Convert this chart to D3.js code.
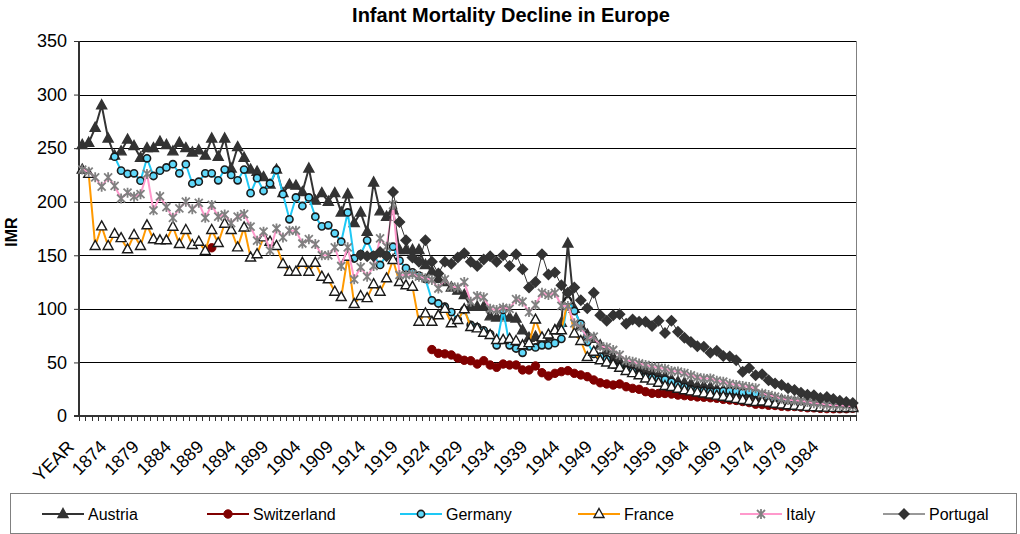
<!DOCTYPE html>
<html>
<head>
<meta charset="utf-8">
<script src="https://cdn.jsdelivr.net/npm/d3@7"></script>
<style>
  body { margin: 0; background: #fff; }
  svg { display: block; font-family: "Liberation Sans", Arial, sans-serif; }
</style>
</head>
<body>
<svg id="chart" width="1020" height="534"></svg>
<script>
'use strict';

var _ = null;

// category labels (first cell of the sheet was the header "YEAR")
var categories = ['YEAR',
  '1870','1871','1872','1873','1874','1875','1876','1877','1878','1879',
  '1880','1881','1882','1883','1884','1885','1886','1887','1888','1889',
  '1890','1891','1892','1893','1894','1895','1896','1897','1898','1899',
  '1900','1901','1902','1903','1904','1905','1906','1907','1908','1909',
  '1910','1911','1912','1913','1914','1915','1916','1917','1918','1919',
  '1920','1921','1922','1923','1924','1925','1926','1927','1928','1929',
  '1930','1931','1932','1933','1934','1935','1936','1937','1938','1939',
  '1940','1941','1942','1943','1944','1945','1946','1947','1948','1949',
  '1950','1951','1952','1953','1954','1955','1956','1957','1958','1959',
  '1960','1961','1962','1963','1964','1965','1966','1967','1968','1969',
  '1970','1971','1972','1973','1974','1975','1976','1977','1978','1979',
  '1980','1981','1982','1983','1984','1985','1986','1987','1988']
var labelEvery = 5
var yTicks = [0, 50, 100, 150, 200, 250, 300, 350]

var austria = [
  253,255,269,290,259,243,247,258,252,241,
  250,250,256,253,247,255,250,246,248,243,
  259,242,259,231,251,241,230,228,223,216,
  230,208,216,215,209,231,201,208,200,208,
  190,207,180,190,172,218,191,186,192,155,
  155,155,155,141,135,128,125,120,117,113,
  102,102,102,93,92,93,92,91,80,73,
  74,71,74,80,87,161,100,84,76,72,
  66,61,55,51,48,46,43,42,40,38,
  37,34,32,31,30,28,28,27,25,24,
  23,22,21,20,19,18,17,16,15,14,
  13,12.5,12,11.5,11,10.5,10,9.5,8.5,8.3]

var switzerland = [
  _,_,_,_,_,_,_,_,_,_,
  _,_,_,_,_,_,_,_,_,_,
  157,_,_,_,_,_,_,_,_,_,
  _,_,_,_,_,_,_,_,_,_,
  _,_,_,_,_,_,_,_,_,_,
  _,_,_,_,62,58.5,58,57,54,52,
  51.6,48.5,51.6,47.6,45.4,48.5,47.6,47.6,43,43,
  46.7,40.4,37.3,39.8,41.4,42.3,39.8,38.3,36.7,33.6,
  31,29.9,28.9,29.9,27.3,25.8,24.9,22.7,21.2,21,
  21,20.5,19.5,19,18.5,17.8,17.5,17,16.5,15.5,
  15,14.5,13.5,12.5,11,10.7,10,9.8,9.1,8.7,
  8.8,8.3,7.7,7.6,7.1,6.9,6.8,6.8,6.8,7.3]

var germany = [
  _,_,_,_,_,242,229,226,226.5,219.6,
  240.5,224,229,232,235,226.5,235,217,218.7,226.5,
  226.5,220,230,225,220,230,208,222,210,217,
  229.6,207,183.6,204,196,204,186,177,178,170.5,
  162.7,190,147,151,164,150,141,150,158,145,
  138,134,131,128,108,105,102,97,90,99,
  85,83,80,76.5,66,99,66,63,59,65,
  64,66,66,68,72,108,98,86,69,58,
  55.5,53,48,46,43,42,39,36.5,36,34,
  34,32,29,27,25,24,23.6,22.8,22.8,23.3,
  23.4,23,22,22.7,21,19.7,17.4,15.4,14.7,13.5,
  12.6,11.6,10.9,10.2,9.6,9.1,8.5,8.3,7.6,7.5]

var france = [
  230,226,158.7,177,158.7,170,166,155.6,169,158.7,
  178,165,164,164,176.7,160.5,173.6,159.6,162.7,154,
  173.6,161.5,179.5,173.6,157.4,176,148,151,166.7,162.7,
  158.7,141.9,134.7,134.7,143,134.7,143,130,127.6,116,
  111,148.7,104.5,112,110,123,116,128.5,145.6,125,
  122,120.7,88,95.8,88,94,100,86.5,89.6,99.6,
  83,81.8,77.7,75.6,71,71,72,70,66,68,
  90,73.4,76,80,80,108,77,70,55,60,
  52,50,48,45,42,40,38,35,33,31,
  28,27,25.5,24,23,22,21,20,19,18,
  17,16,15,14,13,13.5,12.5,11.4,10.7,10,
  9.5,9,8.5,8.3,8,7.8,7.6,7.5,7.5,7.4]

var italy = [
  230,228,222.8,214,222.8,214.7,203,208.4,204.7,207,
  225.9,192,205,195,185,193.8,200,193,199,185,
  197,186,188,180,186,188.5,176.7,163.6,172,154.3,
  175,166.7,173,173,161,165,160.5,150,150,157.4,
  140,157.4,127.6,139,130,140,165.8,158,197,131.6,
  131.6,132.5,130,128.5,127,119,127.6,120.7,120,125,
  106.7,112,110.8,100,99,101,100,109,106.7,97,
  103.6,115,113,115,102.7,102.7,86.5,83,72.5,74,
  65,64,61.6,57,52,50.7,49,47.6,46,45,
  44,42,41.5,40,38,36,35,35,33,32,
  30,29,28,27,26,21,19.5,18,16,15,
  14.6,14,13,12,11.5,10.5,10,9.8,9.5,9]

var portugal = [
  _,_,_,_,_,_,_,_,_,_,
  _,_,_,_,_,_,_,_,_,_,
  _,_,_,_,_,_,_,_,_,_,
  _,_,_,_,_,_,_,_,_,_,
  _,_,_,150,149,149,153,149,209,181,
  164,148,144,164,144,133,144,142,148,152,
  144,140,146,149,144,150,140,151,137,120,
  125,151,132,134,122,115,120,108,100.5,115,
  94,89,94,95,86,90,88,88,84,89,
  77.5,88.8,78.6,73,69,65,64.7,59,61,56,
  55.5,52,41.4,44.8,38,39,33.4,30.3,29,26,
  24.3,21.8,19.8,19.3,16.7,17.8,15.9,14.2,13.1,12.2]

var series = [
  {name: 'Austria', values: austria, color: '#333333', width: 2, marker: 'triangle', fill: '#333333', stroke: '#333333'},
  {name: 'Switzerland', values: switzerland, color: '#800000', width: 2, marker: 'circle', fill: '#800000', stroke: '#800000'},
  {name: 'Germany', values: germany, color: '#1ec8f5', width: 2, marker: 'ring', fill: '#5fd8fa', stroke: '#1a1a1a'},
  {name: 'France', values: france, color: '#ff9900', width: 2, marker: 'triangle', fill: '#ffffff', stroke: '#1a1a1a'},
  {name: 'Italy', values: italy, color: '#ff99cc', width: 2, marker: 'star', fill: 'none', stroke: '#808080'},
  {name: 'Portugal', values: portugal, color: '#333333', width: 1, marker: 'diamond', fill: '#333333', stroke: '#333333'}
]

var legendX = [42, 207, 400, 578, 740, 883]

var plot = {left: 79, right: 856, top: 41, bottom: 416}

var svg = d3.select('#chart')

var x = d3.scaleBand().domain(categories).range([plot.left, plot.right])
var y = d3.scaleLinear().domain([0, 350]).range([plot.bottom, plot.top])
var cx = function(i){ return x(categories[i]) + x.bandwidth() / 2 }

function markerPath(type) {
  if (type === 'triangle') return 'M0,-5.5L5,3.5L-5,3.5Z'
  if (type === 'diamond') return 'M0,-5L5,0L0,5L-5,0Z'
  if (type === 'star') return 'M-4,-4L4,4M-4,4L4,-4M0,-5L0,5'
  return null
}

function drawMarker(g, s, px, py) {
  if (s.marker === 'circle' || s.marker === 'ring') {
    g.append('circle')
      .attr('cx', px).attr('cy', py)
      .attr('r', s.marker === 'circle' ? 4.2 : 3.6)
      .attr('fill', s.fill)
      .attr('stroke', s.stroke)
      .attr('stroke-width', s.marker === 'circle' ? 1 : 1.6)
  } else {
    g.append('path')
      .attr('d', markerPath(s.marker))
      .attr('transform', 'translate(' + px + ',' + py + ')')
      .attr('fill', s.fill)
      .attr('stroke', s.stroke)
      .attr('stroke-width', s.marker === 'star' ? 1.8 : 1.4)
  }
}

// title
svg.append('text')
  .attr('x', 511).attr('y', 22)
  .attr('text-anchor', 'middle')
  .attr('font-size', 20).attr('font-weight', 'bold')
  .text('Infant Mortality Decline in Europe')

// y title
svg.append('text')
  .attr('transform', 'translate(17,232) rotate(-90)')
  .attr('text-anchor', 'middle')
  .attr('font-size', 16).attr('font-weight', 'bold')
  .text('IMR')

// gridlines
svg.append('g')
  .selectAll('line')
  .data(yTicks.slice(1))
  .enter().append('line')
    .attr('x1', plot.left).attr('x2', plot.right)
    .attr('y1', function(d){ return Math.round(y(d)) + 0.5 })
    .attr('y2', function(d){ return Math.round(y(d)) + 0.5 })
    .attr('stroke', '#000').attr('stroke-width', 1)

// right edge of plot area
svg.append('line')
  .attr('x1', plot.right + 0.5).attr('x2', plot.right + 0.5)
  .attr('y1', plot.top).attr('y2', plot.bottom)
  .attr('stroke', '#808080')

// y axis
var yAxis = svg.append('g')
  .attr('transform', 'translate(' + plot.left + ',0)')
  .call(d3.axisLeft(y).tickValues(yTicks).tickSize(5).tickPadding(7))
yAxis.select('.domain').remove()
yAxis.selectAll('line').attr('stroke', '#333')
yAxis.selectAll('text').attr('font-size', 18).attr('fill', '#000')
  .attr('font-family', '"Liberation Sans", Arial, sans-serif')
svg.append('line')
  .attr('x1', plot.left).attr('x2', plot.left)
  .attr('y1', plot.top).attr('y2', plot.bottom + 1)
  .attr('stroke', '#333').attr('stroke-width', 2)

// x axis: ticks on category boundaries
var xAxis = svg.append('g')
xAxis.selectAll('line.tick')
  .data(categories.concat(['end']))
  .enter().append('line')
    .attr('class', 'tick')
    .attr('x1', function(d, i){ return Math.round(plot.left + i * x.bandwidth()) + 0.5 })
    .attr('x2', function(d, i){ return Math.round(plot.left + i * x.bandwidth()) + 0.5 })
    .attr('y1', plot.bottom).attr('y2', plot.bottom + 5)
    .attr('stroke', '#333')
xAxis.append('line')
  .attr('x1', plot.left - 5).attr('x2', plot.right + 1)
  .attr('y1', plot.bottom).attr('y2', plot.bottom)
  .attr('stroke', '#333').attr('stroke-width', 2)
xAxis.selectAll('text')
  .data(categories.filter(function(d, i){ return i % labelEvery === 0 }))
  .enter().append('text')
    .attr('transform', function(d){
      var px = x(d) + x.bandwidth() / 2 - 7
      return 'translate(' + px + ',448) rotate(-45)'
    })
    .attr('text-anchor', 'end')
    .attr('font-size', 18)
    .text(function(d){ return d })

// series
var line = d3.line()
  .defined(function(d){ return d.v !== null })
  .x(function(d){ return cx(d.i) })
  .y(function(d){ return y(d.v) })

series.forEach(function(s){
  var pts = s.values.map(function(v, i){ return {i: i, v: v} })
  var g = svg.append('g')
  g.append('path')
    .datum(pts)
    .attr('d', line)
    .attr('fill', 'none')
    .attr('stroke', s.color)
    .attr('stroke-width', s.width)
    .attr('stroke-linejoin', 'round')
  pts.forEach(function(p){
    if (p.v === null) return
    drawMarker(g, s, cx(p.i), y(p.v))
  })
})

// legend
var legend = svg.append('g')
legend.append('rect')
  .attr('x', 10.5).attr('y', 493.5)
  .attr('width', 1006).attr('height', 40)
  .attr('fill', '#fff').attr('stroke', '#808080')
series.forEach(function(s, k){
  var lx = legendX[k], ly = 514
  legend.append('line')
    .attr('x1', lx).attr('x2', lx + 42)
    .attr('y1', ly).attr('y2', ly)
    .attr('stroke', s.color).attr('stroke-width', s.width)
  drawMarker(legend, s, lx + 21, ly)
  legend.append('text')
    .attr('x', lx + 46).attr('y', ly + 6)
    .attr('font-size', 16)
    .text(s.name)
})
</script>
</body>
</html>
